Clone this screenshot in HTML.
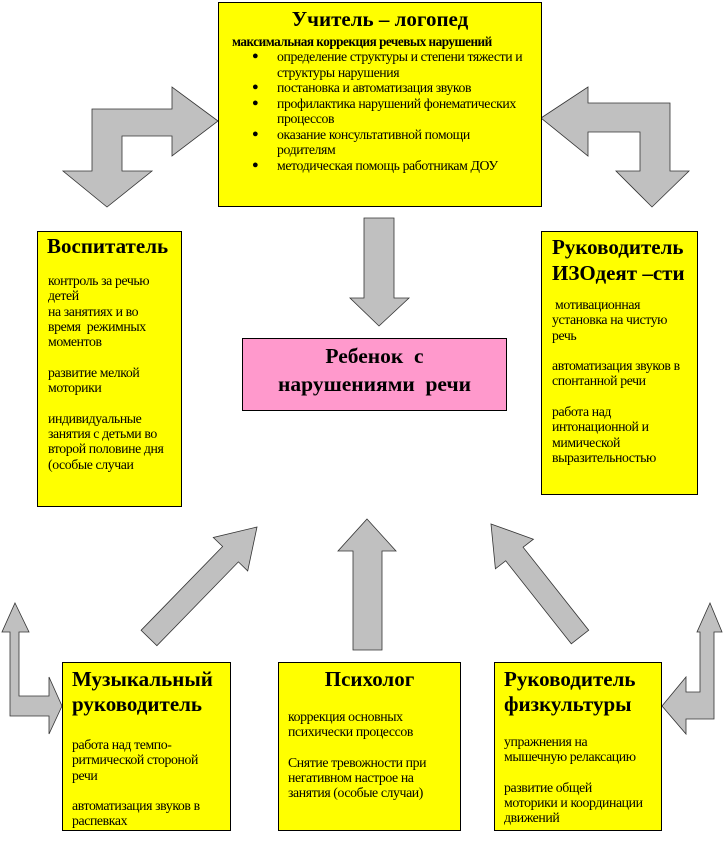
<!DOCTYPE html>
<html><head><meta charset="utf-8"><style>
body{margin:0;width:724px;height:867px;background:#fff;position:relative;overflow:hidden;font-family:"Liberation Serif","Noto Serif CJK SC",serif;color:#000}
.b{position:absolute;background:#ffff00;border:1px solid #000;box-sizing:border-box}
.t{position:absolute;white-space:nowrap;font-size:13.8px;line-height:15.3px;letter-spacing:-0.4px}
.h{position:absolute;white-space:nowrap;font-weight:bold;font-size:21px;line-height:25px}
svg{position:absolute;left:0;top:0}
</style></head><body>
<svg width="724" height="867">
<g fill="#c0c0c0" stroke="#333" stroke-width="0.8">
<polygon points="218,121 172,87 172,109 92,109 92,171 63,171 107,207 152,171 122,171 122,136 172,136 172,156"/>
<polygon points="541,118 588,87 588,103 670,103 670,171 689,171 652,207 616,171 640,171 640,132 588,132 588,156"/>
<polygon points="364,218 394,218 394,298 409,298 379,326 350,298 364,298"/>
<polygon points="367,519 396,551 382,551 382,650 353,650 353,551 338,551"/>
<polygon points="257,527 247.7,570.9 238.4,561.9 156.9,645.7 141.1,630.3 222.6,546.5 213.3,537.5"/>
<polygon points="491,524 533.4,539.2 523.1,547.2 588.7,630.2 571.3,643.8 505.7,560.8 495.4,568.8"/>
<polygon points="15,603 29,632 19,632 19,696 49,696 49,677 62,706 49,734 49,716 10,716 10,632 2,632"/>
<polygon points="710,603 722,632 714,632 714,719 686,719 686,734 662,706 686,677 686,692 700,692 700,632 697,632"/>
</g>
</svg>

<div class="b" style="left:218px;top:2px;width:324px;height:205px"></div>
<div class="h" style="left:218px;width:324px;text-align:center;top:7px">Учитель – логопед</div>
<div class="t" style="left:232px;top:34px;font-weight:bold;font-size:13.2px;letter-spacing:-0.5px">максимальная коррекция речевых нарушений</div>
<div class="t" style="left:252px;top:49px;line-height:15.5px;font-size:11px">●<br><br>●<br>●<br><br>●<br><br>●</div>
<div class="t" style="left:277px;top:49px;line-height:15.5px">определение структуры и степени тяжести и<br>структуры нарушения<br>постановка и автоматизация звуков<br>профилактика нарушений фонематических<br>процессов<br>оказание консультативной помощи<br>родителям<br>методическая помощь работникам ДОУ</div>

<div class="b" style="left:37px;top:231px;width:145px;height:276px"></div>
<div class="h" style="left:47px;top:234px">Воспитатель</div>
<div class="t" style="left:48px;top:273px">контроль за речью<br>детей<br>на занятиях и во<br>время&nbsp; режимных<br>моментов<br><br>развитие мелкой<br>моторики<br><br>индивидуальные<br>занятия с детьми во<br>второй половине дня<br>(особые случаи</div>

<div class="b" style="left:541px;top:231px;width:157px;height:264px"></div>
<div class="h" style="left:552px;top:234px;line-height:26px">Руководитель<br>ИЗОдеят –сти</div>
<div class="t" style="left:552px;top:297px">&nbsp;мотивационная<br>установка на чистую<br>речь<br><br>автоматизация звуков в<br>спонтанной речи<br><br>работа над<br>интонационной и<br>мимической<br>выразительностью</div>

<div class="b" style="left:242px;top:338px;width:265px;height:73px;background:#ff99cc"></div>
<div class="h" style="left:242px;width:265px;text-align:center;top:342px;line-height:28px;font-size:21.5px">Ребенок&nbsp; с<br>нарушениями&nbsp; речи</div>

<div class="b" style="left:62px;top:662px;width:169px;height:169px"></div>
<div class="h" style="left:72px;top:667px">Музыкальный<br>руководитель</div>
<div class="t" style="left:72px;top:737px">работа над темпо-<br>ритмической стороной<br>речи<br><br>автоматизация звуков в<br>распевках</div>

<div class="b" style="left:278px;top:662px;width:183px;height:169px"></div>
<div class="h" style="left:278px;width:183px;text-align:center;top:667px">Психолог</div>
<div class="t" style="left:288px;top:709px">коррекция основных<br>психически процессов<br><br>Снятие тревожности при<br>негативном настрое на<br>занятия (особые случаи)</div>

<div class="b" style="left:494px;top:662px;width:168px;height:169px"></div>
<div class="h" style="left:504px;top:667px">Руководитель<br>физкультуры</div>
<div class="t" style="left:504px;top:734px">упражнения на<br>мышечную релаксацию<br><br>развитие общей<br>моторики и координации<br>движений</div>
</body></html>
